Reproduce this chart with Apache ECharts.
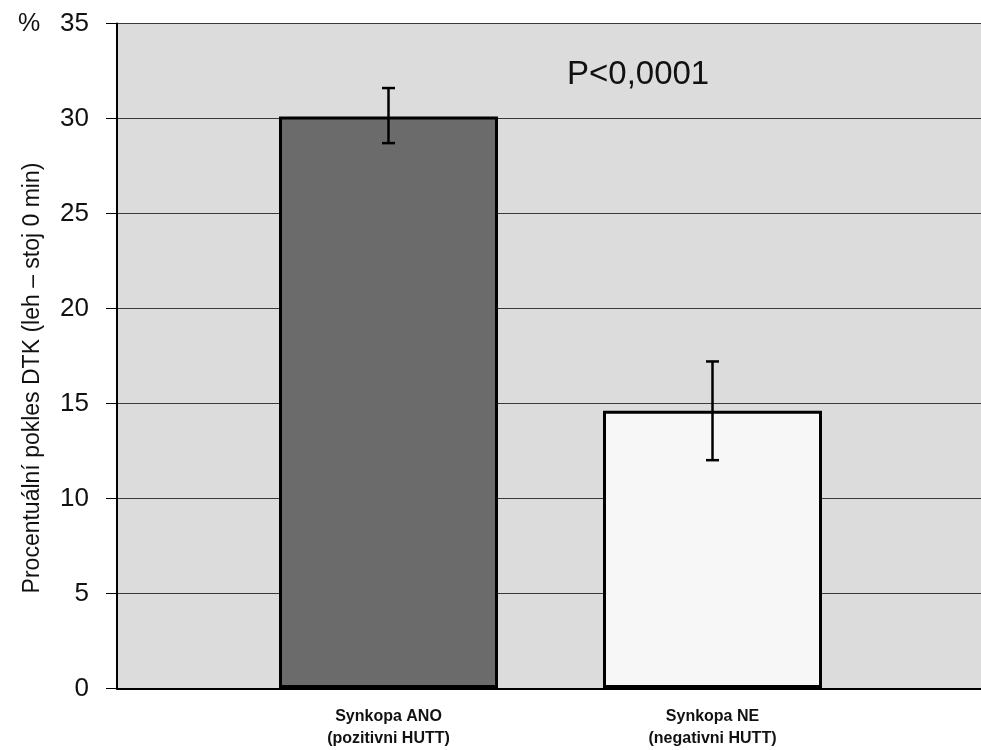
<!DOCTYPE html>
<html><head><meta charset="utf-8">
<script src="https://cdn.jsdelivr.net/npm/echarts@6/dist/echarts.min.js"></script>
<style>html,body{margin:0;padding:0;background:#fff}#c{width:981px;height:750px}</style>
</head><body><div id="c"></div>
<script>
const categories = ['Synkopa ANO\n(pozitivni HUTT)', 'Synkopa NE\n(negativni HUTT)'];
const means = [30.1, 14.6];
const upper = [31.6, 17.2];
const lower = [28.7, 12.0];
const yTicks = [0, 5, 10, 15, 20, 25, 30, 35];
const barColors = ['#6b6b6b', '#f7f7f7'];
const yTitle = 'Procentuální pokles DTK (leh – stoj 0 min)';

const FONT = 'Liberation Sans, Arial, sans-serif';
const chart = echarts.init(document.getElementById('c'), null, {renderer: 'canvas'});
const gTop = 23.5, gBottom = 61.5;
chart.setOption({
  animation: false,
  grid: [
    {left: 117, right: 0, top: gTop, bottom: gBottom, show: true, backgroundColor: '#dcdcdc', borderWidth: 0},
    {left: 226.5, width: 648, top: gTop, bottom: gBottom}
  ],
  xAxis: [
    {gridIndex: 0, type: 'value', min: 0, max: 1, show: true,
     axisLine: {show: true, lineStyle: {color: '#000', width: 2}}, axisTick: {show: false}, axisLabel: {show: false}, splitLine: {show: false}},
    {gridIndex: 1, type: 'category', data: categories,
     axisLine: {show: false}, axisTick: {show: false},
     axisLabel: {fontFamily: FONT, fontSize: 16, fontWeight: 'bold', color: '#111', lineHeight: 22, margin: 18}}
  ],
  yAxis: [
    {gridIndex: 0, type: 'value', min: yTicks[0], max: yTicks[yTicks.length-1], interval: 5,
     axisLine: {show: true, lineStyle: {color: '#000', width: 2}},
     axisTick: {show: true, length: 11, lineStyle: {color: '#000', width: 1}},
     axisLabel: {fontFamily: FONT, fontSize: 26, color: '#111', margin: 28},
     splitLine: {show: true, lineStyle: {color: '#3a3a3a', width: 1}}},
    {gridIndex: 1, type: 'value', min: 0, max: 35, show: false}
  ],
  graphic: [
    {type: 'text', x: 18, y: 24, style: {text: '%', font: '25px ' + FONT, fill: '#111', textVerticalAlign: 'middle'}},
    {type: 'text', x: 567, y: 58, style: {text: 'P<0,0001', font: '33px ' + FONT, fill: '#111'}},
    {type: 'text', x: 33, y: 378, rotation: Math.PI / 2,
     style: {text: yTitle, font: '23px ' + FONT, fill: '#111', textAlign: 'center', textVerticalAlign: 'middle'}}
  ],
  series: [
    {type: 'bar', xAxisIndex: 1, yAxisIndex: 1, barWidth: 219,
     data: means.map((v, i) => ({value: v, itemStyle: {color: barColors[i], borderColor: '#000', borderWidth: 3}}))},
    {type: 'custom', xAxisIndex: 1, yAxisIndex: 1, z: 10,
     data: categories.map((c, i) => [i, lower[i], upper[i]]),
     renderItem: function (params, api) {
       const lo = api.coord([api.value(0), api.value(1)]);
       const hi = api.coord([api.value(0), api.value(2)]);
       const x = lo[0], w = 6.5;
       const st = {stroke: '#000', lineWidth: 2.5};
       return {type: 'group', children: [
         {type: 'line', shape: {x1: x, y1: lo[1], x2: x, y2: hi[1]}, style: st},
         {type: 'line', shape: {x1: x - w, y1: lo[1], x2: x + w, y2: lo[1]}, style: st},
         {type: 'line', shape: {x1: x - w, y1: hi[1], x2: x + w, y2: hi[1]}, style: st}
       ]};
     }}
  ]
});
</script></body></html>
